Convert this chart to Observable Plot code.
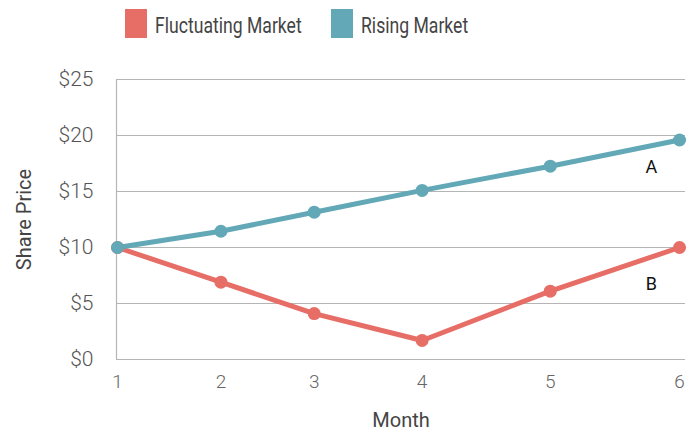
<!DOCTYPE html>
<html><head><meta charset="utf-8">
<script src="https://cdn.jsdelivr.net/npm/d3@7"></script>
<script src="https://cdn.jsdelivr.net/npm/@observablehq/plot@0.6"></script>
<style>
body{margin:0;background:#fff;font-family:Roboto,"Open Sans",sans-serif;}
#legend{position:relative;height:48px;width:694px;}
.sw{position:absolute;top:9px;width:22px;height:29px;}
.lt{position:absolute;top:11px;font-size:22px;color:#444;line-height:30px;white-space:nowrap;transform:scaleX(0.8);transform-origin:0 0;}
</style></head>
<body>
<div id="legend"></div>
<div id="chart"></div>
<script>
const seriesNames = ["Fluctuating Market", "Rising Market"];
const seriesColors = ["#e76d67", "#62a8b6"];
const monthLabels = ["1", "2", "3", "4", "5", "6"];
const monthPos = [1, 1.92, 2.75, 3.71, 4.85, 6];
const fluctuating = [10, 6.9, 4.1, 1.7, 6.1, 10];
const rising = [10, 11.45, 13.15, 15.1, 17.26, 19.6];
const yTicks = [0, 5, 10, 15, 20, 25];
const noteLabels = ["A", "B"];
const noteX = [5.75, 5.75];
const noteY = [17.2, 6.7];

const data = [];
monthPos.forEach((x, i) => {
  data.push({series: seriesNames[0], x, y: fluctuating[i]});
  data.push({series: seriesNames[1], x, y: rising[i]});
});
const notes = noteLabels.map((t, i) => ({t, x: noteX[i], y: noteY[i]}));

// legend
const leg = document.getElementById("legend");
const legPos = [[125, 155], [331, 361]];
seriesNames.forEach((n, i) => {
  const s = document.createElement("div");
  s.className = "sw"; s.style.left = legPos[i][0] + "px"; s.style.background = seriesColors[i];
  const t = document.createElement("div");
  t.className = "lt"; t.style.left = legPos[i][1] + "px"; t.textContent = n;
  leg.appendChild(s); leg.appendChild(t);
});

const xDom = [0.991, 6.053];
const chart = Plot.plot({
  width: 694, height: 386,
  marginTop: 31, marginBottom: 75, marginLeft: 116, marginRight: 9,
  style: {fontFamily: "Roboto, sans-serif", background: "#fff"},
  x: {domain: xDom},
  y: {domain: [0, 25]},
  color: {domain: seriesNames, range: seriesColors},
  marks: [
    Plot.gridY(yTicks, {stroke: "#b5b5b5", strokeOpacity: 1, strokeWidth: 1.2}),
    Plot.ruleX([xDom[0]], {stroke: "#b5b5b5", strokeWidth: 1.2}),
    Plot.axisY({ticks: yTicks, tickSize: 0, tickPadding: 23, tickFormat: d => "$" + d,
      fontSize: 21, fontWeight: 300, fill: "#555", label: null}),
    Plot.text(["Share Price"], {frameAnchor: "left", textAnchor: "middle", dx: -92, rotate: -90, fontSize: 20, fill: "#444", text: d => d}),
    Plot.axisX({ticks: monthPos, tickSize: 0, tickPadding: 15, tickFormat: (d, i) => monthLabels[i],
      fontSize: 19, fontWeight: 300, fill: "#666", label: null}),
    Plot.text(["Month"], {frameAnchor: "bottom", dy: 67, fontSize: 20, fill: "#444", text: d => d}),
    Plot.line(data, {x: "x", y: "y", z: "series", stroke: "series", strokeWidth: 5}),
    Plot.dot(data, {x: "x", y: "y", fill: "series", r: 6.5}),
    Plot.text(notes, {x: "x", y: "y", text: "t", fontSize: 18, fill: "#111"})
  ]
});
document.getElementById("chart").appendChild(chart);
</script>
</body></html>
